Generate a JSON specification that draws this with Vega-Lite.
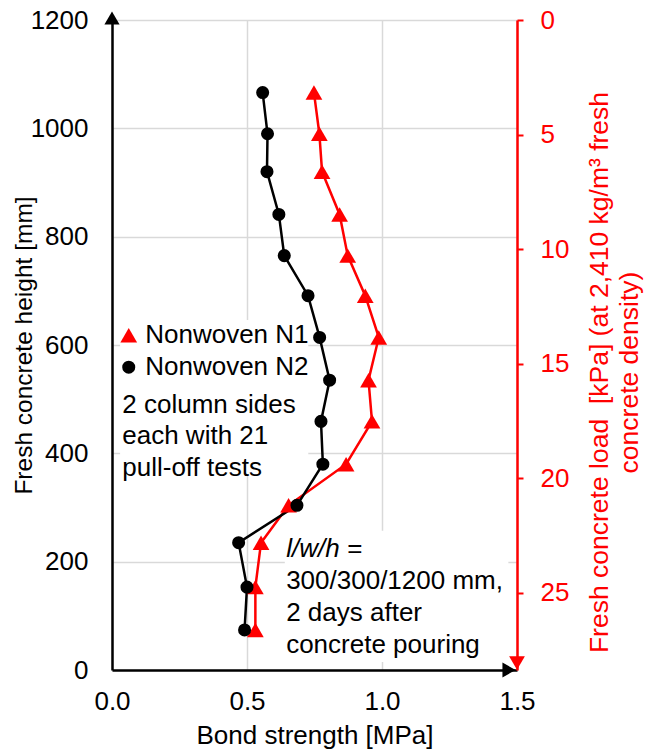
{
  "$schema": "https://vega.github.io/schema/vega-lite/v6.json",
  "width": 405,
  "height": 650,
  "autosize": {"type": "none"},
  "padding": {"left": 112, "top": 20, "right": 133, "bottom": 79},
  "config": {
    "font": "Liberation Sans",
    "view": {"stroke": null},
    "axis": {"labelFont": "Liberation Sans", "titleFont": "Liberation Sans", "labelFontSize": 26, "titleFontSize": 26, "labelColor": "#000000", "titleColor": "#000000", "titleFontWeight": "normal", "gridColor": "#d9d9d9", "gridWidth": 1.5, "labelFlush": false}
  },
  "datasets": {
    "bond": [
      {"series": "Nonwoven N1", "height": 1066, "bond": 0.748},
      {"series": "Nonwoven N1", "height": 990, "bond": 0.768},
      {"series": "Nonwoven N1", "height": 920, "bond": 0.778},
      {"series": "Nonwoven N1", "height": 841, "bond": 0.843},
      {"series": "Nonwoven N1", "height": 765, "bond": 0.873},
      {"series": "Nonwoven N1", "height": 691, "bond": 0.938},
      {"series": "Nonwoven N1", "height": 614, "bond": 0.988},
      {"series": "Nonwoven N1", "height": 535, "bond": 0.950},
      {"series": "Nonwoven N1", "height": 459, "bond": 0.963},
      {"series": "Nonwoven N1", "height": 380, "bond": 0.867},
      {"series": "Nonwoven N1", "height": 304, "bond": 0.654},
      {"series": "Nonwoven N1", "height": 235, "bond": 0.552},
      {"series": "Nonwoven N1", "height": 153, "bond": 0.531},
      {"series": "Nonwoven N1", "height": 74, "bond": 0.531},
      {"series": "Nonwoven N2", "height": 1066, "bond": 0.558},
      {"series": "Nonwoven N2", "height": 990, "bond": 0.576},
      {"series": "Nonwoven N2", "height": 920, "bond": 0.574},
      {"series": "Nonwoven N2", "height": 841, "bond": 0.618},
      {"series": "Nonwoven N2", "height": 765, "bond": 0.638},
      {"series": "Nonwoven N2", "height": 691, "bond": 0.726},
      {"series": "Nonwoven N2", "height": 614, "bond": 0.769},
      {"series": "Nonwoven N2", "height": 535, "bond": 0.806},
      {"series": "Nonwoven N2", "height": 459, "bond": 0.774},
      {"series": "Nonwoven N2", "height": 380, "bond": 0.781},
      {"series": "Nonwoven N2", "height": 304, "bond": 0.685},
      {"series": "Nonwoven N2", "height": 235, "bond": 0.469},
      {"series": "Nonwoven N2", "height": 153, "bond": 0.500},
      {"series": "Nonwoven N2", "height": 74, "bond": 0.491}
    ],
    "legendrows": [
      {"series": "Nonwoven N1", "bond": 0.062, "height": 618, "textbond": 0.123},
      {"series": "Nonwoven N2", "bond": 0.062, "height": 559, "textbond": 0.123}
    ],
    "boxes": [
      {"bond": 0.03, "bond2": 0.727, "height": 360, "height2": 646},
      {"bond": 0.64, "bond2": 1.468, "height": 15, "height2": 257}
    ],
    "notes": [
      {"bond": 0.038, "height": 490, "label": "2 column sides"},
      {"bond": 0.038, "height": 432, "label": "each with 21"},
      {"bond": 0.038, "height": 373, "label": "pull-off tests"},
      {"bond": 0.645, "height": 165, "label": "300/300/1200 mm,"},
      {"bond": 0.645, "height": 106, "label": "2 days after"},
      {"bond": 0.645, "height": 47, "label": "concrete pouring"}
    ],
    "italic": [
      {"bond": 0.645, "height": 224, "label": "l/w/h", "eq": "="}
    ],
    "load": [{"kPa": 0}, {"kPa": 28.37}]
  },
  "layer": [
    {
      "layer": [
        {
          "data": {"name": "boxes"},
          "mark": {"type": "rect", "fill": "#ffffff", "stroke": null},
          "encoding": {
            "x": {"field": "bond", "type": "quantitative", "scale": {"domain": [0, 1.5], "nice": false}, "title": "Bond strength [MPa]",
              "axis": {"values": [0, 0.5, 1.0, 1.5], "format": ".1f", "ticks": false, "domainColor": "#000000", "domainWidth": 2.5, "labelPadding": 18, "titleY": 65, "titleBaseline": "middle"}},
            "x2": {"field": "bond2", "title": "Bond strength [MPa]"},
            "y": {"field": "height", "type": "quantitative", "scale": {"domain": [0, 1200], "nice": false}, "title": "Fresh concrete height [mm]",
              "axis": {"values": [0, 200, 400, 600, 800, 1000, 1200], "format": "d", "ticks": false, "domainColor": "#000000", "domainWidth": 2.5, "labelPadding": 24, "titleX": -88, "titleY": 325, "titleBaseline": "middle", "titleAngle": -90, "titleFontSize": 24.5}},
            "y2": {"field": "height2", "title": "Fresh concrete height [mm]"}
          }
        },
        {
          "data": {"name": "bond"},
          "mark": {"type": "line", "strokeWidth": 2.5},
          "encoding": {
            "x": {"field": "bond", "type": "quantitative", "title": "Bond strength [MPa]"},
            "y": {"field": "height", "type": "quantitative", "title": "Fresh concrete height [mm]"},
            "order": {"field": "height", "type": "quantitative"},
            "color": {"field": "series", "type": "nominal", "scale": {"domain": ["Nonwoven N1", "Nonwoven N2"], "range": ["#ff0000", "#000000"]}, "legend": null}
          }
        },
        {
          "data": {"name": "bond"},
          "mark": {"type": "point", "filled": true, "opacity": 1},
          "encoding": {
            "x": {"field": "bond", "type": "quantitative", "title": "Bond strength [MPa]"},
            "y": {"field": "height", "type": "quantitative", "title": "Fresh concrete height [mm]"},
            "color": {"field": "series", "type": "nominal", "scale": {"domain": ["Nonwoven N1", "Nonwoven N2"], "range": ["#ff0000", "#000000"]}, "legend": null},
            "shape": {"field": "series", "type": "nominal", "scale": {"domain": ["Nonwoven N1", "Nonwoven N2"], "range": ["triangle-up", "circle"]}, "legend": null},
            "size": {"field": "series", "type": "nominal", "scale": {"domain": ["Nonwoven N1", "Nonwoven N2"], "range": [280, 170]}, "legend": null}
          }
        },
        {
          "data": {"name": "legendrows"},
          "mark": {"type": "point", "filled": true, "opacity": 1},
          "encoding": {
            "x": {"field": "bond", "type": "quantitative", "title": "Bond strength [MPa]"},
            "y": {"field": "height", "type": "quantitative", "title": "Fresh concrete height [mm]"},
            "color": {"field": "series", "type": "nominal", "legend": null},
            "shape": {"field": "series", "type": "nominal", "legend": null},
            "size": {"field": "series", "type": "nominal", "legend": null}
          }
        },
        {
          "data": {"name": "legendrows"},
          "mark": {"type": "text", "align": "left", "baseline": "middle", "fontSize": 26, "font": "Liberation Sans", "color": "#000000"},
          "encoding": {
            "x": {"field": "textbond", "type": "quantitative", "title": "Bond strength [MPa]"},
            "y": {"field": "height", "type": "quantitative", "title": "Fresh concrete height [mm]"},
            "text": {"field": "series"}
          }
        },
        {
          "data": {"name": "notes"},
          "mark": {"type": "text", "align": "left", "baseline": "middle", "fontSize": 26, "font": "Liberation Sans", "color": "#000000"},
          "encoding": {
            "x": {"field": "bond", "type": "quantitative", "title": "Bond strength [MPa]"},
            "y": {"field": "height", "type": "quantitative", "title": "Fresh concrete height [mm]"},
            "text": {"field": "label"}
          }
        },
        {
          "data": {"name": "italic"},
          "mark": {"type": "text", "align": "left", "baseline": "middle", "fontSize": 26, "fontStyle": "italic", "font": "Liberation Sans", "color": "#000000"},
          "encoding": {
            "x": {"field": "bond", "type": "quantitative", "title": "Bond strength [MPa]"},
            "y": {"field": "height", "type": "quantitative", "title": "Fresh concrete height [mm]"},
            "text": {"field": "label"}
          }
        },
        {
          "data": {"name": "italic"},
          "mark": {"type": "text", "align": "left", "baseline": "middle", "fontSize": 26, "dx": 61, "font": "Liberation Sans", "color": "#000000"},
          "encoding": {
            "x": {"field": "bond", "type": "quantitative", "title": "Bond strength [MPa]"},
            "y": {"field": "height", "type": "quantitative", "title": "Fresh concrete height [mm]"},
            "text": {"field": "eq"}
          }
        },
        {
          "data": {"values": [{}]},
          "mark": {"type": "point", "shape": "triangle-up", "filled": true, "color": "#000000", "opacity": 1, "size": 230, "yOffset": -2},
          "encoding": {
            "x": {"datum": 0, "type": "quantitative", "title": "Bond strength [MPa]"},
            "y": {"datum": 1200, "type": "quantitative", "title": "Fresh concrete height [mm]"}
          }
        },
        {
          "data": {"values": [{}]},
          "mark": {"type": "point", "shape": "triangle-right", "filled": true, "color": "#000000", "opacity": 1, "size": 230, "xOffset": -8},
          "encoding": {
            "x": {"datum": 1.5, "type": "quantitative", "title": "Bond strength [MPa]"},
            "y": {"datum": 0, "type": "quantitative", "title": "Fresh concrete height [mm]"}
          }
        },
        {
          "data": {"values": [{}]},
          "mark": {"type": "point", "shape": "triangle-down", "filled": true, "color": "#ff0000", "opacity": 1, "size": 250, "yOffset": -7},
          "encoding": {
            "x": {"datum": 1.5, "type": "quantitative", "title": "Bond strength [MPa]"},
            "y": {"datum": 0, "type": "quantitative", "title": "Fresh concrete height [mm]"}
          }
        }
      ]
    },
    {
      "data": {"name": "load"},
      "mark": {"type": "point", "opacity": 0},
      "encoding": {
        "y": {"field": "kPa", "type": "quantitative", "scale": {"domain": [0, 28.37], "reverse": true, "nice": false, "zero": false},
          "title": ["Fresh concrete load\u00a0 [kPa] (at 2,410 kg/m³ fresh", "concrete density)"],
          "axis": {"orient": "right", "values": [0, 5, 10, 15, 20, 25], "grid": false, "domainColor": "#ff0000", "domainWidth": 2.5, "tickColor": "#ff0000", "tickWidth": 2, "tickSize": 6, "labelPadding": 17, "labelColor": "#ff0000", "titleColor": "#ff0000", "titleX": 82, "titleY": 352, "titleAngle": -90, "titleBaseline": "middle", "titleAlign": "center", "titleLineHeight": 30, "titleFontSize": 26.5}}
      }
    }
  ],
  "resolve": {"scale": {"y": "independent"}}
}
